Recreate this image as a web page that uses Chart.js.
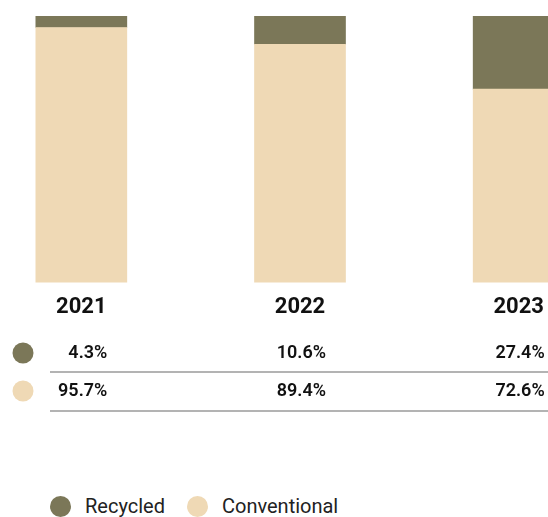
<!DOCTYPE html>
<html>
<head>
<meta charset="utf-8">
<script src="https://cdn.jsdelivr.net/npm/chart.js@4.4.1/dist/chart.umd.min.js"></script>
<style>
html,body{margin:0;padding:0;background:#fff;overflow:hidden;width:548px;height:517px;position:relative}
#wrap{position:absolute;left:-28px;top:0;width:656px;height:430px}
#legend{position:absolute;left:50px;top:494px;display:flex;align-items:center;font-family:Roboto,sans-serif;font-size:20px;color:#222}
#legend .item{display:flex;align-items:center;margin-right:22px}
#legend .dot{width:21px;height:21px;border-radius:50%;margin-right:14px}
</style>
</head>
<body>
<div id="wrap"><canvas id="grafico"></canvas></div>
<div id="legend"></div>
<script>
// datos
const anios = ["2021", "2022", "2023"]
const reciclado = [4.3, 10.6, 27.4]
const convencional = [95.7, 89.4, 72.6]
const nombres = ["Recycled", "Conventional"]
const colores = ["#7b7758", "#efd9b5"]

const desplazamiento = 28 // el canvas empieza fuera de la ventana por la izquierda

// tabla de porcentajes debajo de las barras (reciclado primero)
const tablaPlugin = {
  id: "tabla",
  afterDraw(chart) {
    const ctx = chart.ctx
    const x = chart.scales.x
    const filas = [
      { data: reciclado, color: colores[0], y: 353, linea: 372 },
      { data: convencional, color: colores[1], y: 391, linea: 411 }
    ]
    ctx.save()
    filas.forEach(f => {
      ctx.beginPath()
      ctx.arc(desplazamiento + 23, f.y, 10.5, 0, Math.PI * 2)
      ctx.fillStyle = f.color
      ctx.fill()
      ctx.font = "600 18px Roboto"
      ctx.fillStyle = "#111"
      ctx.textAlign = "right"
      ctx.textBaseline = "middle"
      f.data.forEach((v, j) => {
        ctx.fillText(v.toFixed(1) + "%", x.getPixelForValue(j) + 26, f.y)
      })
      ctx.beginPath()
      ctx.moveTo(desplazamiento + 50, f.linea)
      ctx.lineTo(chart.width, f.linea)
      ctx.lineWidth = 1.5
      ctx.strokeStyle = "#9a9a9a"
      ctx.stroke()
    })
    ctx.restore()
  }
}

// el convencional abajo y el reciclado apilado encima
new Chart(document.getElementById("grafico"), {
  type: "bar",
  data: {
    labels: anios,
    datasets: [
      { label: nombres[1], data: convencional, backgroundColor: colores[1] },
      { label: nombres[0], data: reciclado, backgroundColor: colores[0] }
    ]
  },
  options: {
    responsive: true,
    maintainAspectRatio: false,
    animation: false,
    barThickness: 91,
    layout: { padding: { top: 16, bottom: 97, left: 0, right: 0 } },
    scales: {
      x: {
        stacked: true,
        grid: { display: false, drawTicks: false },
        border: { display: false },
        ticks: { color: "#111", font: { family: "Roboto", size: 22, weight: "bold" }, padding: 12 }
      },
      y: {
        stacked: true,
        display: false,
        min: 0,
        max: 100
      }
    },
    plugins: {
      legend: { display: false },
      tooltip: { enabled: false }
    }
  },
  plugins: [tablaPlugin]
})

// leyenda
const leyenda = document.getElementById("legend")
nombres.forEach((n, i) => {
  const item = document.createElement("div")
  item.className = "item"
  item.innerHTML = `<span class="dot" style="background:${colores[i]}"></span><span>${n}</span>`
  leyenda.appendChild(item)
})
</script>
</body>
</html>
